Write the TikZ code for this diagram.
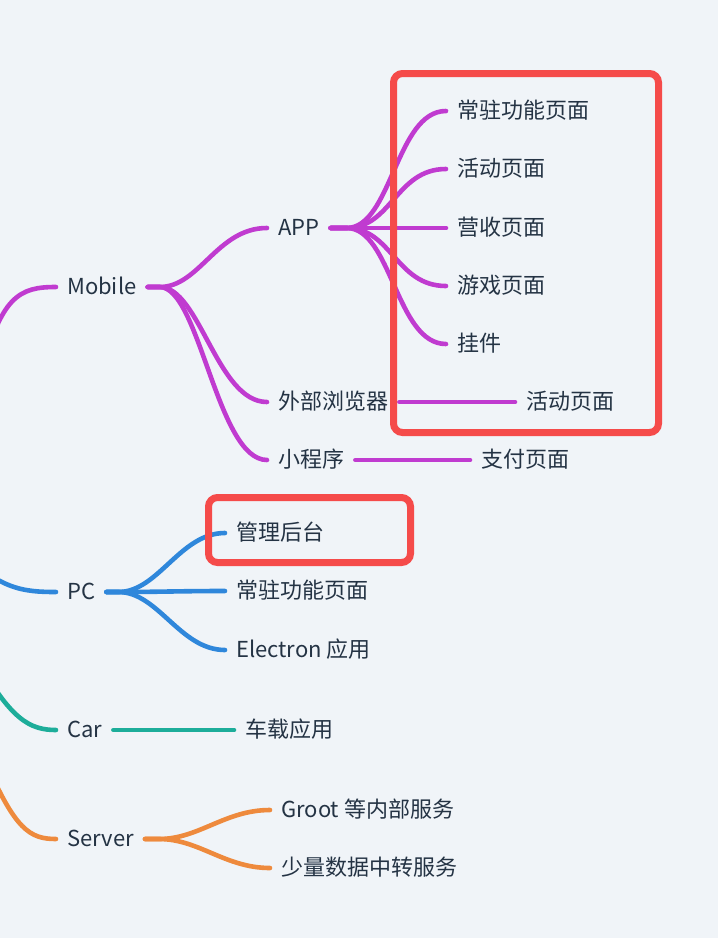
\documentclass[tikz,border=0pt]{standalone}
\usepackage{fontspec}
\setmainfont{Noto Sans CJK SC}

\definecolor{bgc}{HTML}{F0F4F8}
\definecolor{txt}{HTML}{243344}
\definecolor{mpurple}{HTML}{C03BD0}
\definecolor{mblue}{HTML}{2F87DB}
\definecolor{mteal}{HTML}{1DAD9A}
\definecolor{morange}{HTML}{EE8A3D}
\definecolor{mred}{HTML}{F54B4A}

\tikzset{
    topic/.style={anchor=west, inner xsep=11pt, inner ysep=0pt, text=txt,
        font=\fontsize{22}{26}\selectfont, text height=1.6em, text depth=0.04em},
    branch/.style={line width=4.6pt, line cap=round, draw=#1},
    redbox/.style={draw=mred, line width=7pt, rounded corners=9pt}
}

\begin{document}
\begin{tikzpicture}[x=1pt,y=-1pt]

% ===== Nền =====
\fill[bgc] (0,0) rectangle (718,938);
\useasboundingbox (0,0) rectangle (718,938);

% ===== Các nhánh chính =====
\node[topic] (mob) at (56,287) {Mobile};
\node[topic] (pc)  at (56,592) {PC};
\node[topic] (car) at (56,730) {Car};
\node[topic] (srv) at (56,839) {Server};

\coordinate (mobIn) at (-20,380);
\coordinate (pcIn)  at (-40,545);
\coordinate (carIn) at (-25,655);
\coordinate (srvIn) at (-15,760);

\draw[branch=mpurple] (mobIn) .. controls (0,295) and (20,287) .. (mob.west);
\draw[branch=mblue]   (pcIn)  .. controls (-5,590) and (25,592) .. (pc.west);
\draw[branch=mteal]   (carIn) .. controls (10,720) and (30,730) .. (car.west);
\draw[branch=morange] (srvIn) .. controls (15,830) and (30,839) .. (srv.west);

% ===== Mobile =====
\node[topic] (app) at (267,228) {APP};
\node[topic] (wb)  at (267,402) {外部浏览器};
\node[topic] (mp)  at (267,460) {小程序};

\foreach \tgt in {app,wb,mp} {
    \draw[branch=mpurple] (mob.east) -- ++(12,0)
        .. controls +(40,0) and +(-50,0) .. (\tgt.west);
}

\foreach \name/\y/\lbl in {ap1/111/常驻功能页面, ap2/169/活动页面,
        ap3/228/营收页面, ap4/286/游戏页面, ap5/344/挂件} {
    \node[topic] (\name) at (446,\y) {\lbl};
    \draw[branch=mpurple] (app.east) -- ++(16,0)
        .. controls +(45,0) and +(-50,0) .. (\name.west);
}

\node[topic] (act) at (515,402) {活动页面};
\node[topic] (pay) at (470,460) {支付页面};
\draw[branch=mpurple] (wb.east) -- (act.west);
\draw[branch=mpurple] (mp.east) -- (pay.west);

% ===== PC =====
\node[topic] (adm) at (225,533) {管理后台};
\node[topic] (res) at (225,591) {常驻功能页面};
\node[topic] (ele) at (225,650) {Electron 应用};

\foreach \tgt in {adm,res,ele} {
    \draw[branch=mblue] (pc.east) -- ++(12,0)
        .. controls +(40,0) and +(-45,0) .. (\tgt.west);
}

% ===== Car =====
\node[topic] (cara) at (234,730) {车载应用};
\draw[branch=mteal] (car.east) -- (cara.west);

% ===== Server =====
\node[topic] (groot) at (270,810) {Groot 等内部服务};
\node[topic] (relay) at (270,868) {少量数据中转服务};

\foreach \tgt in {groot,relay} {
    \draw[branch=morange] (srv.east) -- ++(14,0)
        .. controls +(40,0) and +(-45,0) .. (\tgt.west);
}

% ===== Khung đỏ =====
\draw[redbox] (393.5,73.5) rectangle (658.5,432.5);
\draw[redbox] (208.5,497.5) rectangle (410.5,562.5);

\end{tikzpicture}
\end{document}
